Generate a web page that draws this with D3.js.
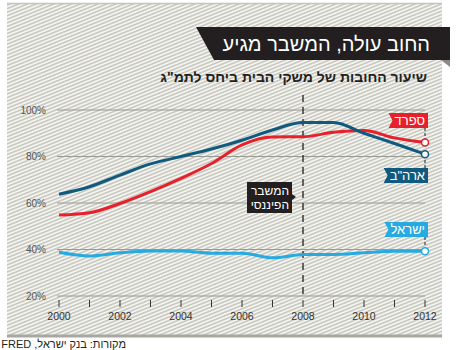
<!DOCTYPE html>
<html>
<head>
<meta charset="utf-8">
<script src="https://cdn.jsdelivr.net/npm/d3@7"></script>
<style>
  body { margin: 0; background: #fff; }
  svg { display: block; font-family: "Liberation Sans", Arial, sans-serif; }
</style>
</head>
<body>
<svg id="chart" width="458" height="350"></svg>
<script>
// data
const years = [2000, 2001, 2002, 2003, 2004, 2005, 2006, 2007, 2008, 2009, 2010, 2011, 2012];
const usa    = [63.8, 67, 72, 76.8, 80, 83.2, 87, 91.4, 94.6, 94.6, 90, 85.6, 81];
const spain  = [54.8, 55.8, 59.8, 64.9, 70.6, 77, 85, 88.4, 88.5, 90.4, 91.2, 88, 86];
const israel = [38.8, 37.2, 38.6, 39.4, 39.4, 38.4, 38.4, 36.4, 37.8, 37.9, 38.6, 39.2, 39.3];
const yTicks = [20, 40, 60, 80, 100];
const xTicks = years;
const crisisYear = 2008;

const series = [
  { name: "ישראל", values: israel, color: "#27aae1", labelY: 222 },
  { name: "ספרד", values: spain, color: "#e8202b", labelY: 113 },
  { name: "ארה\"ב", values: usa, color: "#0f5a7e", labelY: 168 }
];

const svg = d3.select("#chart");

// hatched backdrop
const defs = svg.append("defs");
const pat = defs.append("pattern")
    .attr("id", "hatch")
    .attr("patternUnits", "userSpaceOnUse")
    .attr("width", 12)
    .attr("height", 3.3)
    .attr("patternTransform", "rotate(-22)");
pat.append("rect").attr("width", 12).attr("height", 3.3).attr("fill", "#f4f4f0");
pat.append("rect").attr("width", 12).attr("height", 1.5).attr("fill", "#c6c6be");

svg.append("rect")
    .attr("x", 7).attr("y", 3)
    .attr("width", 435).attr("height", 333)
    .attr("fill", "url(#hatch)");
svg.append("line")
    .attr("x1", 7).attr("x2", 442).attr("y1", 3.5).attr("y2", 3.5)
    .style("stroke", "#c4c4bc").style("stroke-width", 1.5);
svg.append("line")
    .attr("x1", 7).attr("x2", 442).attr("y1", 336).attr("y2", 336)
    .style("stroke", "#a8a8a0").style("stroke-width", 3);

// title banner
svg.append("polygon")
    .attr("points", "441,60 450,60 450,67")
    .attr("fill", "#8a8a88");
svg.append("polygon")
    .attr("points", "196,27 450,27 450,60 214,60")
    .attr("fill", "#231f20");
svg.append("text")
    .attr("x", 430).attr("y", 51)
    .attr("text-anchor", "start")
    .attr("direction", "rtl")
    .attr("fill", "#fff")
    .style("font-size", "20px")
    .text("החוב עולה, המשבר מגיע");

svg.append("text")
    .attr("x", 427).attr("y", 82)
    .attr("text-anchor", "start")
    .attr("direction", "rtl")
    .attr("fill", "#231f20")
    .style("font-size", "14px")
    .style("font-weight", "bold")
    .text("שיעור החובות של משקי הבית ביחס לתמ\"ג");

// scales
const x = d3.scaleLinear().domain([2000, 2012]).range([59, 425]);
const y = d3.scaleLinear().domain([20, 100]).range([296, 110]);

// grid + y labels
const grid = svg.append("g");
grid.selectAll("line")
    .data(yTicks).enter()
  .append("line")
    .attr("x1", 57).attr("x2", 425)
    .attr("y1", (d) => y(d)).attr("y2", (d) => y(d))
    .style("stroke", "#9a9a94").style("stroke-width", 1);
grid.selectAll("text")
    .data(yTicks).enter()
  .append("text")
    .attr("x", 46)
    .attr("y", (d) => y(d) + 3.5)
    .attr("text-anchor", "end")
    .attr("fill", "#555")
    .style("font-size", "10px")
    .text((d) => d + "%");

// x ticks
const xa = svg.append("g");
xa.selectAll("line")
    .data(xTicks).enter()
  .append("line")
    .attr("x1", (d) => x(d)).attr("x2", (d) => x(d))
    .attr("y1", 300).attr("y2", 307)
    .style("stroke", "#333").style("stroke-width", 1);
xa.selectAll("text")
    .data(xTicks.filter((d) => d % 2 === 0)).enter()
  .append("text")
    .attr("x", (d) => x(d))
    .attr("y", 320)
    .attr("text-anchor", "middle")
    .attr("fill", "#333")
    .style("font-size", "10.5px")
    .text((d) => d);

// crisis marker
svg.append("line")
    .attr("x1", x(crisisYear)).attr("x2", x(crisisYear))
    .attr("y1", 95).attr("y2", 298)
    .style("stroke", "#231f20").style("stroke-width", 1.3)
    .style("stroke-dasharray", "7,5");

const cb = svg.append("g");
cb.append("polygon")
    .attr("points", `247,182 292,182 292,194 296,197 292,200 292,213 247,213`)
    .attr("fill", "#231f20");
cb.selectAll("text")
    .data(["המשבר", "הפיננסי"]).enter()
  .append("text")
    .attr("x", 289)
    .attr("y", (d, i) => 195 + i * 14)
    .attr("text-anchor", "start")
    .attr("direction", "rtl")
    .attr("fill", "#fff")
    .style("font-size", "12px")
    .text((d) => d);

// lines
const line = d3.line()
    .x((d, i) => x(years[i]))
    .y((d) => y(d))
    .curve(d3.curveMonotoneX);

series.forEach((s) => {
  const last = s.values[s.values.length - 1];
  const ex = x(years[years.length - 1]);
  const ey = y(last);
  const lh = 15;

  // dashed leader from label to end dot
  const labelEdge = s.labelY < ey ? s.labelY + lh : s.labelY;
  svg.append("line")
      .attr("x1", ex).attr("x2", ex)
      .attr("y1", labelEdge).attr("y2", ey)
      .style("stroke", "#231f20").style("stroke-width", 1)
      .style("stroke-dasharray", "3,2");

  svg.append("path")
      .datum(s.values)
      .attr("d", line)
      .style("fill", "none")
      .style("stroke", s.color)
      .style("stroke-width", 3);

  svg.append("circle")
      .attr("cx", ex).attr("cy", ey).attr("r", 3.5)
      .style("fill", "#fff")
      .style("stroke", s.color)
      .style("stroke-width", 1.5);

  // flag label
  const g = svg.append("g");
  const t = g.append("text")
      .attr("x", 425)
      .attr("y", s.labelY + 12)
      .attr("text-anchor", "start")
      .attr("direction", "rtl")
      .attr("fill", "#fff")
      .style("font-size", "13px")
      .text(s.name);
  const w = t.node().getComputedTextLength();
  const x0 = 425 - w - 6;
  const x1 = 428;
  g.insert("polygon", "text")
      .attr("points", `${x0},${s.labelY} ${x1},${s.labelY} ${x1},${s.labelY + lh} ${x0},${s.labelY + lh} ${x0 + 4},${s.labelY + lh / 2}`)
      .attr("fill", s.color);
});

// source
svg.append("text")
    .attr("x", 126).attr("y", 348)
    .attr("text-anchor", "start")
    .attr("direction", "rtl")
    .attr("fill", "#231f20")
    .style("font-size", "11px")
    .text("מקורות: בנק ישראל, FRED");
</script>
</body>
</html>
